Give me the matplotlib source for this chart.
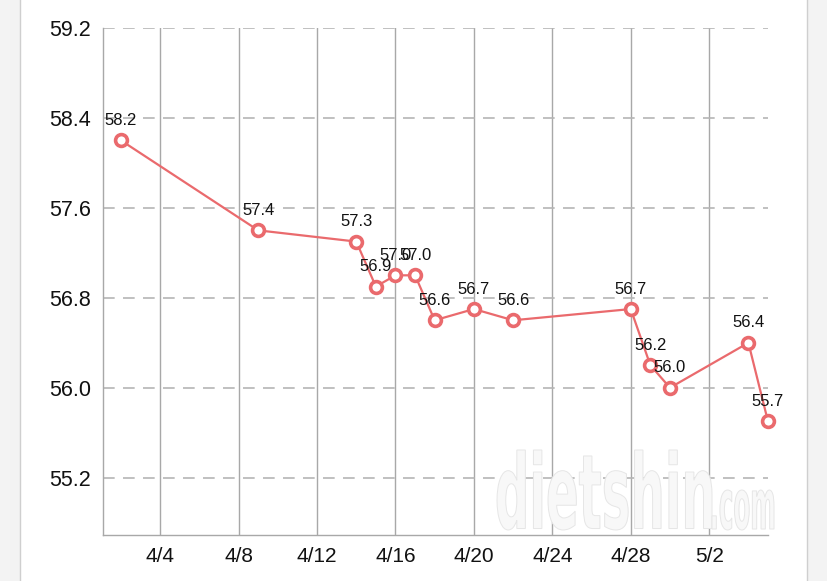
import datetime as dt
import matplotlib
matplotlib.use("Agg")
import matplotlib.pyplot as plt
from matplotlib.patches import Rectangle, PathPatch
from matplotlib.lines import Line2D
from matplotlib.textpath import TextPath
from matplotlib.font_manager import FontProperties
from matplotlib.transforms import Affine2D

plt.rcParams['font.family'] = ['Liberation Sans', 'DejaVu Sans']

# weight log (April - May)
dates = ["04-02", "04-09", "04-14", "04-15", "04-16", "04-17", "04-18",
         "04-20", "04-22", "04-28", "04-29", "04-30", "05-04", "05-05"]
weights = [58.2, 57.4, 57.3, 56.9, 57.0, 57.0, 56.6,
           56.7, 56.6, 56.7, 56.2, 56.0, 56.4, 55.7]
yticks = [55.2, 56.0, 56.8, 57.6, 58.4, 59.2]

days = [dt.datetime.strptime("2024-" + d, "%Y-%m-%d") for d in dates]

red = "#ea6a6d"

W, H = 828, 581
fig = plt.figure(figsize=(W / 100, H / 100), dpi=100)
fig.patch.set_facecolor("white")

# grey side strips of the screenshot
fig.add_artist(Rectangle((0, 0), 20 / W, 1, transform=fig.transFigure,
                         facecolor="#f3f3f3", edgecolor="none"))
fig.add_artist(Rectangle((807 / W, 0), 1, 1, transform=fig.transFigure,
                         facecolor="#f3f3f3", edgecolor="none"))
fig.add_artist(Line2D([20 / W, 20 / W], [0, 1], transform=fig.transFigure,
                      color="#cfcfcf", lw=1))
fig.add_artist(Line2D([807 / W, 807 / W], [0, 1], transform=fig.transFigure,
                      color="#cfcfcf", lw=1))

ax = fig.add_axes([103 / W, (H - 535) / H, (768 - 103) / W, (535 - 28) / H])
ax.set_facecolor("none")

# watermark
def watermark(txt, x0, y0, w, h):
    p = TextPath((0, 0), txt, size=100,
                 prop=FontProperties(family="DejaVu Sans", weight="bold"))
    bb = p.get_extents()
    tr = Affine2D().translate(-bb.x0, -bb.y0).scale(w / bb.width, h / bb.height) \
        .translate(x0, H - y0)
    fig.add_artist(PathPatch(tr.transform_path(p), facecolor="#f8f8f8",
                             edgecolor="#e6e6e6", lw=0.7, transform=None, zorder=0.5))

watermark("dietshin", 497, 530, 215, 80)
watermark(".com", 712, 530, 62, 40)

ax.plot(days, weights, color=red, lw=1.6, marker="o", markersize=8.5,
        markerfacecolor="white", markeredgecolor=red, markeredgewidth=2.6,
        zorder=5, clip_on=False)

for d, w in zip(days, weights):
    ax.annotate(f"{w:.1f}", (d, w), xytext=(0, 9), textcoords="offset points",
                ha="center", va="bottom", fontsize=12, color="#111111", zorder=6)

ax.set_xlim(dt.datetime(2024, 4, 1, 2), dt.datetime(2024, 5, 5))
ax.set_ylim(54.69, 59.2)

ax.set_yticks(yticks)
ax.set_yticklabels([f"{v:.1f}" for v in yticks])
xt = [dt.datetime(2024, 4, 4) + dt.timedelta(days=4 * i) for i in range(8)]
ax.set_xticks(xt)
ax.set_xticklabels([f"{d.month}/{d.day}" for d in xt])

ax.tick_params(axis="y", length=0, pad=8.5, labelsize=15.5, labelcolor="#111111")
ax.tick_params(axis="x", length=0, pad=9, labelsize=15, labelcolor="#111111")

ax.grid(axis="x", color="#a8a8a8", lw=1, linestyle="-")
ax.grid(axis="y", color="#b5b5b5", lw=1.2, linestyle=(0, (7, 5)))
ax.set_axisbelow(True)

for s in ["top", "right"]:
    ax.spines[s].set_visible(False)
for s in ["left", "bottom"]:
    ax.spines[s].set_color("#a8a8a8")
    ax.spines[s].set_linewidth(1)

fig.savefig("out.png", dpi=100)
